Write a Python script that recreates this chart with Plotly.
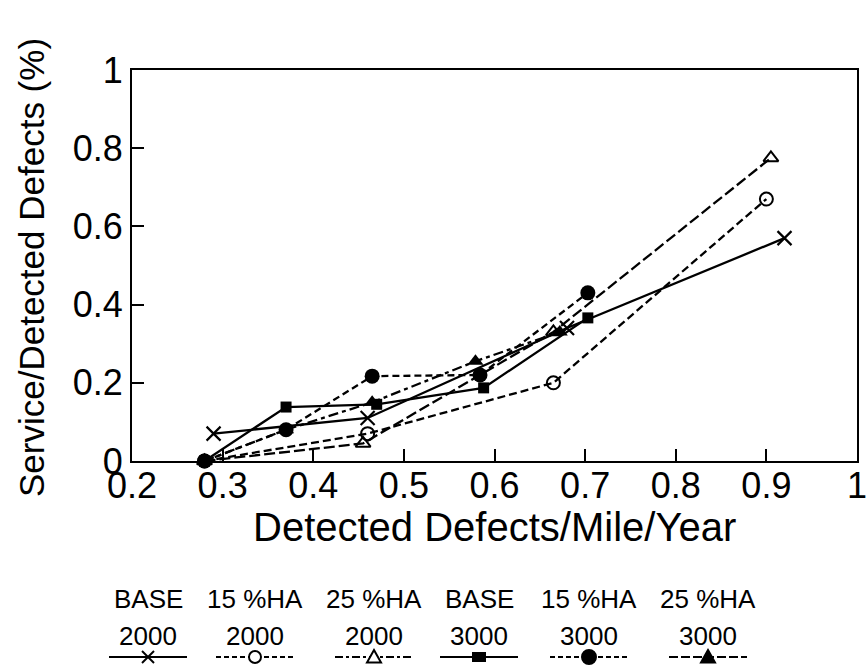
import plotly.graph_objects as go

# ---------------- data ----------------
base2000_x = [0.29, 0.46, 0.68, 0.92]
base2000_y = [0.07, 0.11, 0.34, 0.57]

ha15_2000_x = [0.28, 0.46, 0.665, 0.90]
ha15_2000_y = [0.00, 0.07, 0.20, 0.67]

ha25_2000_x = [0.28, 0.455, 0.665, 0.905]
ha25_2000_y = [0.00, 0.045, 0.33, 0.775]

base3000_x = [0.28, 0.37, 0.47, 0.588, 0.703]
base3000_y = [0.00, 0.138, 0.145, 0.187, 0.366]

ha15_3000_x = [0.28, 0.37, 0.465, 0.584, 0.703]
ha15_3000_y = [0.00, 0.08, 0.217, 0.22, 0.43]

ha25_3000_x = [0.28, 0.37, 0.465, 0.579, 0.672]
ha25_3000_y = [0.00, 0.08, 0.15, 0.255, 0.33]

legend_top = ["BASE", "15 %HA", "25 %HA", "BASE", "15 %HA", "25 %HA"]
legend_bottom = ["2000", "2000", "2000", "3000", "3000", "3000"]

x_ticks = [0.2, 0.3, 0.4, 0.5, 0.6, 0.7, 0.8, 0.9, 1.0]
y_ticks = [0, 0.2, 0.4, 0.6, 0.8, 1.0]

x_title = "Detected Defects/Mile/Year"
y_title = "Service/Detected Defects (%)"

# ---------------- styles ----------------
W, H = 868, 668
L, R, T, B = 132, 857, 70, 461
PW, PH = R - L, B - T
X0, X1, Y0, Y1 = 0.2, 1.0, 0.0, 1.0
FONT = "Liberation Sans, Arial, Helvetica, sans-serif"

series = [
    (base2000_x, base2000_y, "solid", "x-thin", 14, 2.2),
    (ha15_2000_x, ha15_2000_y, "8px,4px", "circle-open", 13, 2.0),
    (ha25_2000_x, ha25_2000_y, "11px,4px", "triangle-up-open", 13, 2.0),
    (base3000_x, base3000_y, "solid", "square", 11, 0),
    (ha15_3000_x, ha15_3000_y, "7px,4px", "circle", 15, 0),
    (ha25_3000_x, ha25_3000_y, "10px,4px,4px,4px", "triangle-up", 14, 0),
]
legend_dash = ["solid", "5px,3px", "8px,3px,3px,3px", "solid", "5px,3px", "9px,3px"]
legend_key = ["x", "circle-open", "triangle-open", "square", "circle", "triangle"]


def px_x(p):  # pixel -> paper
    return (p - L) / PW


def px_y(p):
    return (B - p) / PH


legend_cx = [148, 255, 374, 479, 589, 708]
legend_half = 39
LEG_Y = 657

fig = go.Figure()

for (xs, ys, dash, sym, ms, mlw) in series:
    fig.add_trace(go.Scatter(
        x=xs, y=ys, mode="lines+markers",
        line=dict(color="black", width=2.3, dash=dash),
        marker=dict(symbol=sym, size=ms, color="black",
                    line=dict(color="black", width=mlw)),
        cliponaxis=False, showlegend=False, hoverinfo="skip"))


def key_shapes(kind, cx, cy):
    shp = []
    blk = dict(color="black", width=2)
    if kind == "x":
        r = 6
        for d in (1, -1):
            shp.append(dict(type="line", xref="paper", yref="paper",
                            x0=px_x(cx - r), x1=px_x(cx + r),
                            y0=px_y(cy - d * r), y1=px_y(cy + d * r), line=blk))
    elif kind.startswith("circle"):
        r = 6 if kind == "circle-open" else 7
        shp.append(dict(type="circle", xref="paper", yref="paper",
                        x0=px_x(cx - r), x1=px_x(cx + r), y0=px_y(cy + r), y1=px_y(cy - r),
                        line=blk, fillcolor="white" if kind == "circle-open" else "black"))
    elif kind.startswith("triangle"):
        r = 7
        pts = [(cx, cy - r), (cx + r, cy + r * 0.8), (cx - r, cy + r * 0.8)]
        path = "M " + " L ".join("%.5f,%.5f" % (px_x(a), px_y(b)) for a, b in pts) + " Z"
        shp.append(dict(type="path", xref="paper", yref="paper", path=path, line=blk,
                        fillcolor="white" if kind == "triangle-open" else "black"))
    elif kind == "square":
        r = 5
        shp.append(dict(type="rect", xref="paper", yref="paper",
                        x0=px_x(cx - r - 2), x1=px_x(cx + r + 2), y0=px_y(cy + r), y1=px_y(cy - r),
                        line=dict(color="black", width=0), fillcolor="black"))
    return shp


# custom legend keys drawn below the plot
for i in range(6):
    cx = legend_cx[i]
    fig.add_shape(type="line", xref="paper", yref="paper",
                  x0=px_x(cx - legend_half), x1=px_x(cx + legend_half),
                  y0=px_y(LEG_Y), y1=px_y(LEG_Y),
                  line=dict(color="black", width=1.8, dash=legend_dash[i]))
    for s in key_shapes(legend_key[i], cx, LEG_Y):
        fig.add_shape(**s)

annotations = []
for i in range(6):
    cx = legend_cx[i]
    annotations.append(dict(x=px_x(cx), y=px_y(599), xref="paper", yref="paper",
                            text=legend_top[i], showarrow=False,
                            font=dict(family=FONT, size=26, color="black"),
                            xanchor="center", yanchor="middle"))
    annotations.append(dict(x=px_x(cx), y=px_y(636), xref="paper", yref="paper",
                            text=legend_bottom[i], showarrow=False,
                            font=dict(family=FONT, size=26, color="black"),
                            xanchor="center", yanchor="middle"))

annotations.append(dict(x=0.5, y=px_y(527), xref="paper", yref="paper",
                        text=x_title, showarrow=False,
                        font=dict(family=FONT, size=40, color="black"),
                        xanchor="center", yanchor="middle"))
annotations.append(dict(x=px_x(31), y=px_y(268), xref="paper", yref="paper",
                        text=y_title, showarrow=False, textangle=-90,
                        font=dict(family=FONT, size=35, color="black"),
                        xanchor="center", yanchor="middle"))

axis_common = dict(showgrid=False, zeroline=False, showline=True, linewidth=2,
                   linecolor="black", mirror=True, ticks="inside", ticklen=12,
                   tickwidth=2, tickcolor="black", automargin=False,
                   tickfont=dict(family=FONT, size=36, color="black"))

fig.update_layout(
    width=W, height=H, autosize=False,
    margin=dict(l=L, r=W - R, t=T, b=H - B, pad=0),
    paper_bgcolor="white", plot_bgcolor="rgba(0,0,0,0)",
    showlegend=False,
    xaxis=dict(range=[X0, X1], tickvals=x_ticks, ticklabelstandoff=-8,
               ticktext=[("%g" % v) for v in x_ticks], **axis_common),
    yaxis=dict(range=[Y0, Y1], tickvals=y_ticks,
               ticktext=[("%g" % v) for v in y_ticks], **axis_common),
    annotations=annotations,
)

fig.write_html("out.html")
